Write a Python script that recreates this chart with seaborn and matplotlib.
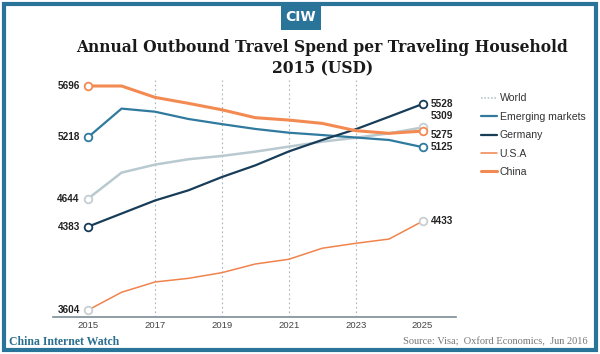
import matplotlib
matplotlib.use("Agg")
import matplotlib.pyplot as plt
import seaborn as sns
import pandas as pd
from matplotlib.patches import Rectangle
from matplotlib.lines import Line2D

sns.set_style("white")
plt.rcParams['font.family'] = ['Liberation Sans', 'DejaVu Sans']

years = list(range(2015, 2026))
world = [4644, 4887, 4962, 5012, 5043, 5083, 5130, 5176, 5213, 5254, 5309]
emerging = [5218, 5485, 5456, 5388, 5340, 5295, 5260, 5238, 5215, 5192, 5125]
germany = [4383, 4505, 4627, 4722, 4846, 4955, 5085, 5192, 5292, 5409, 5528]
usa = [3604, 3770, 3866, 3900, 3953, 4034, 4078, 4181, 4227, 4267, 4433]
china = [5696, 5696, 5590, 5534, 5474, 5400, 5378, 5347, 5279, 5254, 5275]

names = ["World", "Emerging markets", "Germany", "U.S.A", "China"]
series = [world, emerging, germany, usa, china]
colors = ["#b9c9d0", "#2f7a9e", "#173d59", "#f0834c", "#f38a52"]
widths = [1.8, 1.6, 1.6, 1.1, 2.2]
marker_edges = ["#c4cfd3", "#2f7a9e", "#173d59", "#c9cfd1", "#f38a52"]
end_labels = ["5309", "5125", "5528", "4433", "5275"]
end_offsets = [8, 0, 0, 0, -3]
blue = "#2a7399"

df = pd.DataFrame({"year": years * len(names),
                   "value": sum(series, []),
                   "series": [n for n in names for _ in years]})

fig = plt.figure(figsize=(6, 3.54), dpi=100)
ax = fig.add_axes([0.0883, 0.1045, 0.6717, 0.6695])

for name, col, lw, mec, lab, off in zip(names, colors, widths, marker_edges,
                                         end_labels, end_offsets):
    sub = df[df["series"] == name]
    sns.lineplot(data=sub, x="year", y="value", color=col, lw=lw, ax=ax,
                 legend=False, zorder=3)
    ends = sub.iloc[[0, -1]]
    ax.plot(ends["year"], ends["value"], "o", ms=5.5, mfc="white", mec=mec,
            mew=1.3, zorder=4)
    ax.annotate(lab, (2025, ends["value"].iloc[1]), xytext=(6, off),
                textcoords="offset points", va="center", ha="left",
                fontsize=7.2, fontweight="bold", color="#222222")
    ax.annotate(str(ends["value"].iloc[0]), (2015, ends["value"].iloc[0]),
                xytext=(-6, 0), textcoords="offset points", va="center",
                ha="right", fontsize=7.2, fontweight="bold", color="#222222")

for yr in [2017, 2019, 2021, 2023]:
    ax.axvline(yr, color="#a8b4ba", lw=0.8, ls=(0, (1.5, 2.5)), zorder=1)

ax.set_xlim(2013.95, 2026.0)
ax.set_ylim(3539, 5752)
ax.set_xticks(range(2015, 2026, 2))
ax.tick_params(axis="x", length=0, labelsize=6.8, labelcolor="#444444", pad=3)
ax.set_yticks([])
ax.set_xlabel("")
ax.set_ylabel("")
for s in ["top", "right", "left"]:
    ax.spines[s].set_visible(False)
ax.spines["bottom"].set_color("#7c8c96")
ax.spines["bottom"].set_linewidth(1.2)

handles = [Line2D([], [], color=c, lw=w) for c, w in zip(colors, widths)]
handles[0].set_linestyle((0, (1, 1)))
handles[0].set_linewidth(1.2)
leg = fig.legend(handles, names, loc="upper left", bbox_to_anchor=(0.785, 0.763),
                 frameon=False, fontsize=7.6, handlelength=1.6, handletextpad=0.2,
                 labelspacing=0.8)
for t in leg.get_texts():
    t.set_color("#333333")

# frame and header
fig.patches.append(Rectangle((0.007, 0.011), 0.986, 0.978, transform=fig.transFigure,
                             fill=False, ec=blue, lw=3, zorder=10))
fig.patches.append(Rectangle((281 / 600, 1 - 30 / 354), 40 / 600, 27 / 354,
                             transform=fig.transFigure, fc=blue, ec="none", zorder=11))
fig.text(301 / 600, 1 - 17 / 354, "CIW", ha="center", va="center", color="white",
         fontsize=10, fontweight="bold", family="DejaVu Sans Condensed", zorder=12)

fig.text(0.5375, 1 - 47 / 354, "Annual Outbound Travel Spend per Traveling Household",
         ha="center", va="center", fontsize=11.2, fontweight="bold",
         family="DejaVu Serif", color="#1a1a1a")
fig.text(0.5375, 1 - 69 / 354, "2015 (USD)", ha="center", va="center", fontsize=11.2,
         fontweight="bold", family="DejaVu Serif", color="#1a1a1a")

fig.text(9 / 600, 1 - 342 / 354, "China Internet Watch", ha="left", va="center",
         fontsize=8.5, fontweight="bold", family="Liberation Serif", color="#2a6f8f")
fig.text(588 / 600, 1 - 342 / 354, "Source: Visa;  Oxford Economics,  Jun 2016",
         ha="right", va="center", fontsize=7.5, family="Liberation Serif",
         color="#777777")

fig.savefig("out.png", dpi=100)
